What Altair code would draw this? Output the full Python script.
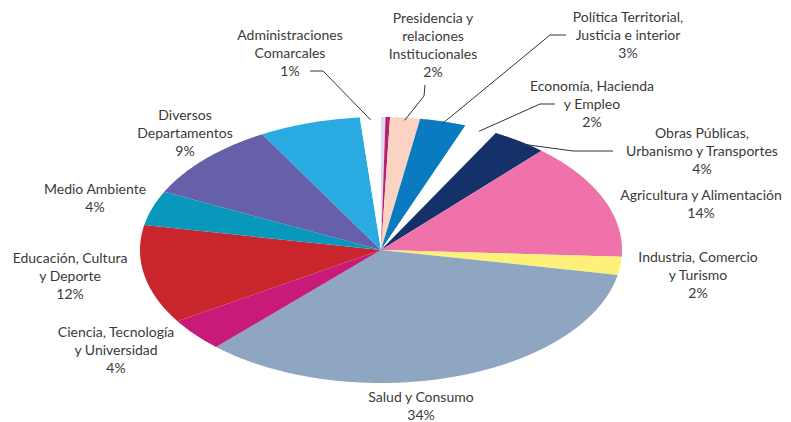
import numpy as np
import pandas as pd
import altair as alt

# ---------------- data ----------------
categories = [
    "Sin etiqueta A",
    "Sin etiqueta B",
    "Presidencia y relaciones Institucionales",
    "Política Territorial, Justicia e interior",
    "Economía, Hacienda y Empleo",
    "Obras Públicas, Urbanismo y Transportes",
    "Agricultura y Alimentación",
    "Industria, Comercio y Turismo",
    "Salud y Consumo",
    "Ciencia, Tecnología y Universidad",
    "Educación, Cultura y Deporte",
    "Medio Ambiente",
    "Diversos Departamentos",
    "Sin etiqueta C",
    "Administraciones Comarcales",
]
shares = [0.3, 0.3, 2.0, 3.1, 2.2, 3.7, 14.2, 2.2, 34.0, 4.0, 12.0, 4.2, 9.6, 6.8, 1.4]
colors = [
    "#dcd9ee", "#b8206f", "#fbd3c3", "#0a7bc1", "#ffffff", "#14316a",
    "#ef72aa", "#fef17a", "#8fa6c2", "#c81b79", "#c9252c", "#0798bb",
    "#6560a9", "#29abe2", "#ffffff",
]

label_texts = [
    "Administraciones\nComarcales\n1%",
    "Presidencia y\nrelaciones\nInstitucionales\n2%",
    "Política Territorial,\nJusticia e interior\n3%",
    "Economía, Hacienda\ny Empleo\n2%",
    "Obras Públicas,\nUrbanismo y Transportes\n4%",
    "Agricultura y Alimentación\n14%",
    "Industria, Comercio\ny Turismo\n2%",
    "Salud y Consumo\n34%",
    "Ciencia, Tecnología\ny Universidad\n4%",
    "Educación, Cultura\ny Deporte\n12%",
    "Medio Ambiente\n4%",
    "Diversos\nDepartamentos\n9%",
]

# ---------------- layout (page pixels, first-line centre) ----------------
CX, CY, RX, RY = 381, 250, 241, 133
label_x = [290, 433, 628, 592, 702, 701, 698, 421, 116, 70, 95, 185]
label_y = [36, 19, 18, 87, 134, 196, 258, 398, 333, 259, 190, 116]

leader_cats = [
    "Administraciones Comarcales",
    "Presidencia y relaciones Institucionales",
    "Política Territorial, Justicia e interior",
    "Economía, Hacienda y Empleo",
    "Obras Públicas, Urbanismo y Transportes",
]
leader_outer = [
    [(310, 71), (323, 71)],
    [(425, 85), (424, 96)],
    [(566, 35), (550, 35)],
    [(555, 104), (540, 104)],
    [(613, 151), (573, 151)],
]

# ---------------- build polygons ----------------
total = float(sum(shares))
cum = np.concatenate([[0.0], np.cumsum(shares)]) / total * 2 * np.pi
rows = []
mids = {}
for i, cat in enumerate(categories):
    a0, a1 = cum[i], cum[i + 1]
    mids[cat] = (a0 + a1) / 2
    n = max(3, int(np.degrees(a1 - a0) / 0.5) + 2)
    ang = np.linspace(a0, a1, n)
    pts = [(CX, CY)] + [(CX + RX * np.sin(t), CY - RY * np.cos(t)) for t in ang]
    for j, (x, y) in enumerate(pts):
        rows.append({"cat": cat, "x": x, "y": y, "o": j})
poly = pd.DataFrame(rows)

lrows = []
for k, cat in enumerate(leader_cats):
    t = mids[cat]
    inner = (CX + 0.98 * RX * np.sin(t), CY - 0.98 * RY * np.cos(t))
    pts = leader_outer[k] + [inner]
    for j, (x, y) in enumerate(pts):
        lrows.append({"id": k, "x": x, "y": y, "o": j})
leaders = pd.DataFrame(lrows)

labels = pd.DataFrame({"t": label_texts, "x": label_x, "y": label_y})

xs = alt.Scale(domain=[8, 783], nice=False, zero=False)
ys = alt.Scale(domain=[8, 422], nice=False, zero=False, reverse=True)

slices = alt.Chart(poly).mark_line(strokeWidth=0).encode(
    x=alt.X("x:Q", scale=xs, axis=None),
    y=alt.Y("y:Q", scale=ys, axis=None),
    fill=alt.Fill("cat:N", scale=alt.Scale(domain=categories, range=colors), legend=None),
    detail="cat:N",
    order="o:Q",
)

lines = alt.Chart(leaders).mark_line(color="#333333", strokeWidth=1).encode(
    x=alt.X("x:Q", scale=xs, axis=None),
    y=alt.Y("y:Q", scale=ys, axis=None),
    detail="id:N",
    order="o:Q",
)

text = alt.Chart(labels).mark_text(
    font="Lato", fontSize=14, lineHeight=18, color="#3a3a3a",
    lineBreak="\n", align="center", baseline="middle",
).encode(
    x=alt.X("x:Q", scale=xs, axis=None),
    y=alt.Y("y:Q", scale=ys, axis=None),
    text="t:N",
)

chart = alt.layer(slices, lines, text).properties(
    width=775, height=414,
    autosize=alt.AutoSizeParams(type="none"),
    padding=0,
    background="white",
).configure_view(strokeWidth=0)

chart.save("out.html", embed_options={"renderer": "svg", "actions": False})
